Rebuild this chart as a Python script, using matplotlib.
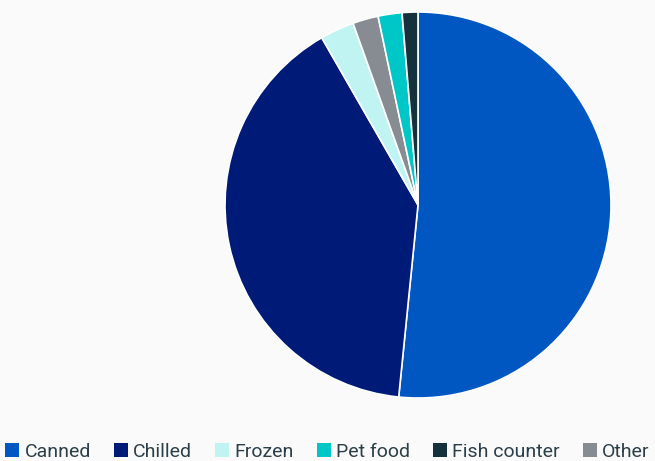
import matplotlib
matplotlib.use('Agg')
import matplotlib.pyplot as plt
from matplotlib.patches import Patch

labels = ['Canned', 'Chilled', 'Frozen', 'Pet food', 'Fish counter', 'Other']
values = [51.6, 40.1, 2.85, 2.0, 1.32, 2.14]
colors = ['#0057c2', '#001a78', '#bff4f3', '#00c7c7', '#15323c', '#878c93']

# slices are drawn largest first, legend keeps original order
order = sorted(range(len(values)), key=lambda i: -values[i])

plt.rcParams['font.family'] = ['Roboto', 'DejaVu Sans']
fig = plt.figure(figsize=(6.55, 4.61), dpi=100, facecolor='#fafafa')
W, H = 655, 461
cx, cy, r = 418, 205, 193
ax = fig.add_axes([(cx - r) / W, (H - cy - r) / H, 2 * r / W, 2 * r / H])
ax.set_facecolor('#fafafa')
ax.pie([values[i] for i in order], colors=[colors[i] for i in order],
       startangle=90, counterclock=False, radius=1,
       wedgeprops=dict(edgecolor='white', linewidth=1.2))
ax.set_xlim(-1, 1)
ax.set_ylim(-1, 1)
ax.set_aspect('equal')
ax.axis('off')

handles = [Patch(facecolor=c, edgecolor='none') for c in colors]
fig.legend(handles, labels, loc='lower center', ncol=6, frameon=False,
           bbox_to_anchor=(0.5, 0.0), fontsize=14, labelcolor='#2a3f4a',
           handlelength=0.72, handleheight=0.72, handletextpad=0.27,
           columnspacing=1.18, borderaxespad=0, borderpad=0)

fig.savefig('out.png', dpi=100, facecolor=fig.get_facecolor())
